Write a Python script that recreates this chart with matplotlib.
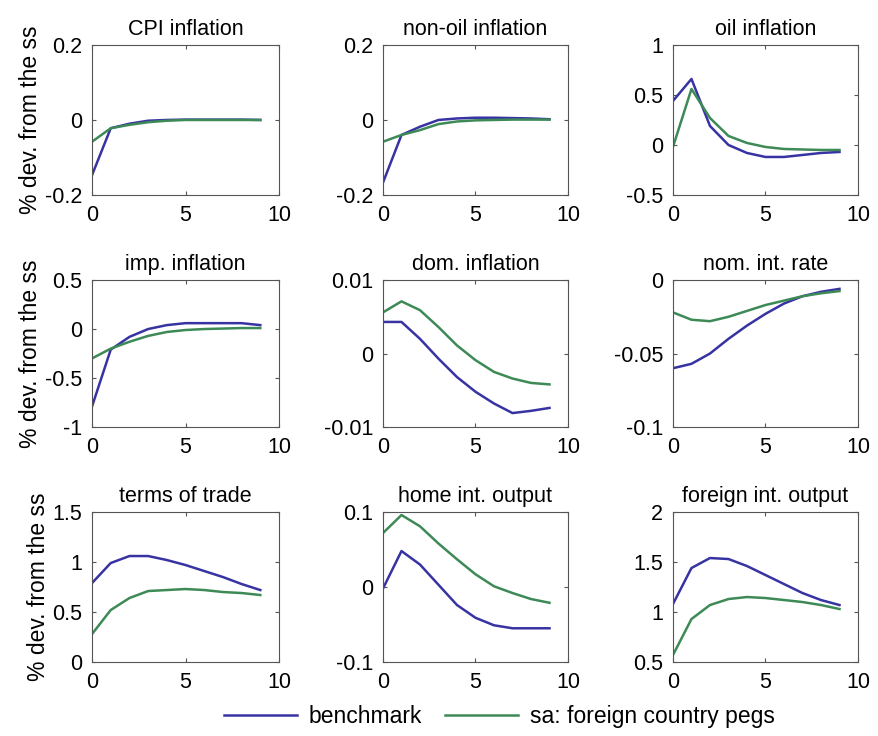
"""Impulse responses: benchmark vs. foreign country pegs (3x3 panel grid)."""

import numpy as np
import matplotlib.pyplot as plt

plt.rcParams.update({
    "font.family": ["Liberation Sans", "DejaVu Sans"],
    "font.size": 15,
    "axes.linewidth": 0.8,
    "axes.edgecolor": "#555555",
    "xtick.direction": "in",
    "ytick.direction": "in",
    "xtick.top": True,
    "ytick.right": True,
    "xtick.major.size": 3,
    "ytick.major.size": 3,
    "xtick.color": "#555555",
    "ytick.color": "#555555",
    "xtick.labelcolor": "black",
    "ytick.labelcolor": "black",
    "figure.facecolor": "white",
})

BLUE = "#3833a3"
GREEN = "#3d8a57"

periods = np.arange(10)

titles = [
    "CPI inflation", "non-oil inflation", "oil inflation",
    "imp. inflation", "dom. inflation", "nom. int. rate",
    "terms of trade", "home int. output", "foreign int. output",
]

# benchmark responses
bench_cpi = [-0.147, -0.022, -0.010, -0.002, 0.0, 0.001, 0.001, 0.001, 0.001, 0.0]
bench_nonoil = [-0.167, -0.040, -0.018, 0.0, 0.004, 0.006, 0.006, 0.005, 0.004, 0.002]
bench_oil = [0.44, 0.66, 0.19, 0.0, -0.08, -0.12, -0.12, -0.10, -0.08, -0.07]
bench_imp = [-0.79, -0.21, -0.08, 0.0, 0.04, 0.06, 0.06, 0.06, 0.06, 0.04]
bench_dom = [0.0043, 0.0043, 0.0020, -0.0007, -0.0032, -0.0052, -0.0068, -0.0081, -0.0078, -0.0074]
bench_rate = [-0.060, -0.057, -0.050, -0.040, -0.031, -0.023, -0.016, -0.011, -0.008, -0.006]
bench_tot = [0.79, 0.99, 1.06, 1.06, 1.02, 0.97, 0.91, 0.85, 0.78, 0.72]
bench_home = [-0.002, 0.048, 0.030, 0.003, -0.024, -0.041, -0.051, -0.055, -0.055, -0.055]
bench_foreign = [1.08, 1.44, 1.54, 1.53, 1.46, 1.37, 1.28, 1.19, 1.12, 1.07]

# foreign country pegs
peg_cpi = [-0.058, -0.022, -0.013, -0.006, -0.002, 0.0, 0.0, 0.0, 0.0, 0.0]
peg_nonoil = [-0.058, -0.040, -0.027, -0.011, -0.004, -0.001, 0.0, 0.001, 0.001, 0.001]
peg_oil = [-0.02, 0.56, 0.27, 0.09, 0.02, -0.02, -0.04, -0.045, -0.05, -0.05]
peg_imp = [-0.30, -0.20, -0.13, -0.07, -0.03, -0.01, 0.0, 0.005, 0.01, 0.01]
peg_dom = [0.0056, 0.0071, 0.0059, 0.0036, 0.0011, -0.0009, -0.0025, -0.0034, -0.0040, -0.0042]
peg_rate = [-0.022, -0.027, -0.028, -0.025, -0.021, -0.017, -0.014, -0.011, -0.009, -0.0075]
peg_tot = [0.28, 0.52, 0.64, 0.71, 0.72, 0.73, 0.72, 0.70, 0.69, 0.67]
peg_home = [0.072, 0.096, 0.081, 0.058, 0.037, 0.017, 0.001, -0.008, -0.016, -0.021]
peg_foreign = [0.57, 0.93, 1.07, 1.13, 1.15, 1.14, 1.12, 1.10, 1.07, 1.03]

benchmark = [bench_cpi, bench_nonoil, bench_oil, bench_imp, bench_dom,
             bench_rate, bench_tot, bench_home, bench_foreign]
pegs = [peg_cpi, peg_nonoil, peg_oil, peg_imp, peg_dom,
        peg_rate, peg_tot, peg_home, peg_foreign]

ylims = [(-0.2, 0.2), (-0.2, 0.2), (-0.5, 1),
         (-1, 0.5), (-0.01, 0.01), (-0.1, 0),
         (0, 1.5), (-0.1, 0.1), (0.5, 2)]
yticks = [[-0.2, 0, 0.2], [-0.2, 0, 0.2], [-0.5, 0, 0.5, 1],
          [-1, -0.5, 0, 0.5], [-0.01, 0, 0.01], [-0.1, -0.05, 0],
          [0, 0.5, 1, 1.5], [-0.1, 0, 0.1], [0.5, 1, 1.5, 2]]
ytick_labels = [["-0.2", "0", "0.2"], ["-0.2", "0", "0.2"], ["-0.5", "0", "0.5", "1"],
                ["-1", "-0.5", "0", "0.5"], ["-0.01", "0", "0.01"], ["-0.1", "-0.05", "0"],
                ["0", "0.5", "1", "1.5"], ["-0.1", "0", "0.1"], ["0.5", "1", "1.5", "2"]]

fig = plt.figure(figsize=(8.79, 7.36), dpi=100)

lefts = [0.1047, 0.4357, 0.7656]
widths = [0.2127, 0.2105, 0.2105]
bottoms = [0.7351, 0.4198, 0.1005]
heights = [0.2038, 0.1997, 0.2038]

for i in range(9):
    r, c = divmod(i, 3)
    ax = fig.add_axes([lefts[c], bottoms[r], widths[c], heights[r]])
    lb, = ax.plot(periods, benchmark[i], color=BLUE, lw=1.8)
    lg, = ax.plot(periods, pegs[i], color=GREEN, lw=1.8)
    ax.set_xlim(0, 10)
    ax.set_xticks([0, 5, 10])
    ax.set_ylim(*ylims[i])
    ax.set_yticks(yticks[i])
    ax.set_yticklabels(ytick_labels[i])
    ax.tick_params(axis="y", labelsize=15.5, pad=7)
    ax.tick_params(axis="x", labelsize=15.5, pad=7)
    ax.set_title(titles[i], fontsize=15.5, pad=7)
    if c == 0:
        ax.set_ylabel("% dev. from the ss", fontsize=16.5, labelpad=2)

fig.legend([lb, lg], ["benchmark", "sa: foreign country pegs"],
           loc="center", bbox_to_anchor=(0.568, 0.026), ncol=2, frameon=False,
           fontsize=16.5, handlelength=3.2, columnspacing=1.0, handletextpad=0.5)

fig.savefig("out.png", dpi=100)
